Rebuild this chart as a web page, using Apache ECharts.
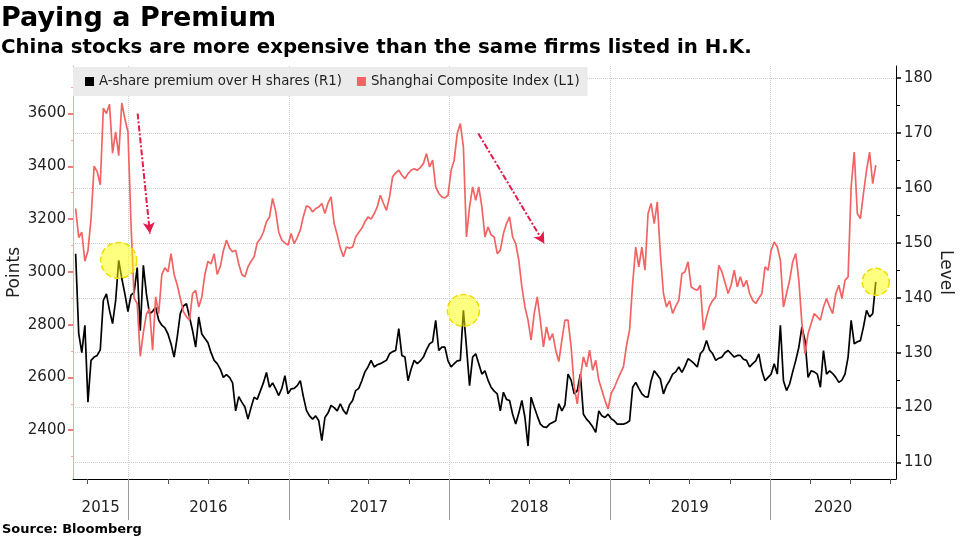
<!DOCTYPE html>
<html><head><meta charset="utf-8">
<script src="https://cdn.jsdelivr.net/npm/echarts@6/dist/echarts.min.js"></script>
<style>html,body{margin:0;padding:0;background:#fff}#c{width:960px;height:540px}</style>
</head><body><div id="c"></div>
<script>
// weekly observations starting from this date
const startDate = '2015-09-04';
// A-share premium over H shares (right axis)
const premium = [
148,133.5,130,135,121,128.6,129.2,129.5,130.5,139.5,
140.7,137.7,135.3,139.5,146.8,143.5,140.7,137.5,140.5,141,
145.5,134,145.9,140.7,137.1,137.5,138.3,135.9,135,134.5,
133.4,131.6,129.2,132.8,137.1,138.5,138.9,136.5,134,131,
136.5,133.4,132.6,131.8,130,128.6,128,127,125.5,126,
125.5,124.5,119.4,122,121,120.1,117.9,120,121.9,121.5,
123,124.5,126.4,123.7,124.5,123.4,122.2,123.5,125.8,122.5,
123.4,123.5,124,124.9,122,119.5,118.5,117.9,118.5,117.6,
114,118.2,119,120.4,120,119.4,120.7,119.5,118.8,120.5,
121.3,123.1,123.5,124.9,126.5,127.4,128.6,127.4,127.8,128,
128.3,128.6,129.8,130.2,130.4,134.4,129.5,129.2,124.9,127,
128.6,128,128.5,129.2,130.5,131.6,132,135.9,130.4,131,
131,128.5,127.4,128,128.5,128.6,137.7,131,124,129.2,
129.8,128,126.1,126.7,125,123.7,123,122.5,119.4,122.8,
121.5,121.3,118.8,117,119,121.3,118.2,113,121.9,120.1,
118.5,117,116.5,116.4,117,117.3,117.6,120.7,119.4,120.5,
126.1,125,122.5,123.1,126.1,118.8,117.9,117.3,116.5,115.5,
119.4,118.5,118.2,118.8,118,117.6,117,117,117,117.2,
117.6,123.7,124.6,123.5,122.5,122,121.9,124.9,126.7,126,
125.2,122.5,124,124.9,126.1,126.5,127.4,126.4,127.5,128.9,
128.5,128,127.4,129.8,130.5,132.2,130.5,129.8,128.6,129,
129.2,130,130.4,129.8,129.2,129.5,129.5,128.8,128.6,127.4,
128,128.5,129.8,126.7,124.9,125.5,126.1,128,126.1,135,
124.9,123.1,124.3,126.5,128.6,131,134.7,132.2,125.5,126.7,
126.5,126.1,123.7,130.4,126.1,126.7,126.2,125.5,124.6,125,
126.1,129.2,135.9,131.6,132,132.2,134.7,137.7,136.5,137.1,
142.9
];
// Shanghai Composite Index (left axis)
const shanghai = [
3240,3130,3150,3040,3080,3200,3400,3380,3330,3620,
3600,3635,3450,3530,3440,3640,3580,3530,3180,2900,
2880,2680,2770,2840,2860,2703,2905,2842,2990,3015,
3000,3069,2990,2950,2900,2850,2830,2817,2918,2930,
2867,2905,2990,3040,3030,3069,2990,3020,3080,3120,
3090,3076,3082,3030,2990,2981,3019,3040,3057,3110,
3125,3150,3190,3208,3278,3230,3150,3120,3110,3101,
3145,3107,3130,3158,3210,3250,3245,3227,3240,3246,
3259,3221,3260,3284,3183,3140,3090,3057,3094,3090,
3094,3132,3150,3165,3190,3208,3200,3220,3246,3290,
3260,3233,3284,3360,3375,3385,3366,3353,3372,3385,
3391,3385,3395,3410,3448,3398,3423,3322,3297,3284,
3280,3290,3385,3423,3524,3562,3473,3132,3246,3322,
3271,3322,3246,3132,3170,3140,3132,3069,3082,3145,
3183,3208,3132,3107,3044,2943,2867,2817,2741,2842,
2905,2817,2716,2791,2741,2766,2703,2660,2741,2817,
2817,2716,2564,2500,2602,2678,2640,2703,2627,2665,
2589,2551,2513,2480,2539,2560,2589,2615,2640,2720,
2780,2956,3094,3019,3094,3006,3221,3259,3183,3265,
3069,2918,2867,2890,2842,2870,2892,2993,3000,3038,
2943,2935,2930,2949,2779,2829,2870,2892,2905,3025,
3000,2960,2918,2950,3006,2943,2981,2943,2968,2918,
2892,2880,2900,2918,3019,3006,3082,3113,3094,3044,
2867,2918,2968,3038,3069,2968,2804,2690,2766,2804,
2842,2830,2817,2867,2899,2867,2842,2918,2949,2899,
2968,2981,3322,3454,3221,3202,3297,3385,3454,3334,
3404
];
const xMinDate = '2015-08-29', xMaxDate = '2020-10-13';
const yearTicks = ['2016-01-01','2017-01-01','2018-01-01','2019-01-01','2020-01-01'];
const quarterTicks = ['2015-10-01','2016-04-01','2016-07-01','2016-10-01','2017-04-01','2017-07-01','2017-10-01',
  '2018-04-01','2018-07-01','2018-10-01','2019-04-01','2019-07-01','2019-10-01','2020-04-01','2020-07-01','2020-10-01'];
const yearLabelPos = ['2015-10-31','2016-07-02','2017-07-02','2018-07-02','2019-07-02','2020-05-23'];
const leftTicks = [2400,2600,2800,3000,3200,3400,3600];
const leftMinor = [2300,2500,2700,2900,3100,3300,3500,3700];
const rightTicks = [110,120,130,140,150,160,170,180];
const rightMinor = [115,125,135,145,155,165,175];
const highlightIdx = [14,126,260];
const highlightSize = [36,32,27];
const arrows = [[['2016-01-23',3600],['2016-02-20',3145]],[['2018-03-08',3524],['2018-08-05',3107]]];

const ts = (s) => Date.parse(s + 'T00:00:00Z');
const DAY = 86400000;
const dates = premium.map((_, i) => ts(startDate) + 7 * i * DAY);
const FONT = 'DejaVu Sans';
const L_MIN = 2215, L_MAX = 3780, R_MIN = 107, R_MAX = 182.2;
const plain = (v) => String(Math.round(v));

const chart = echarts.init(document.getElementById('c'), null, {renderer:'canvas'});
chart.setOption({
  animation:false,
  backgroundColor:'#fff',
  textStyle:{fontFamily:FONT},
  title:[
    {text:'Paying a Premium', left:1, top:5, padding:0, textStyle:{fontFamily:FONT,fontSize:27,fontWeight:'bold',color:'#000'}},
    {text:'China stocks are more expensive than the same firms listed in H.K.', left:1, top:38, padding:0, textStyle:{fontFamily:FONT,fontSize:19.8,fontWeight:'bold',color:'#000'}},
    {text:'Source: Bloomberg', left:2, top:523, padding:0, textStyle:{fontFamily:FONT,fontSize:13,fontWeight:'bold',color:'#000'}}
  ],
  legend:{
    data:['A-share premium over H shares (R1)','Shanghai Composite Index (L1)'],
    left:73, top:67, padding:[8,8,8,12], itemGap:15, itemWidth:9, itemHeight:9, icon:'rect',
    backgroundColor:'#ebebeb', textStyle:{fontFamily:FONT,fontSize:13.3,color:'#222'}
  },
  grid:{left:73, right:64, top:66, bottom:61, containLabel:false, outerBoundsMode:'none'},
  xAxis:[
    {type:'value', min:ts(xMinDate), max:ts(xMaxDate), position:'bottom',
     axisLine:{show:true,onZero:false,lineStyle:{color:'#000',width:1}},
     axisTick:{show:true, customValues:yearTicks.map(ts), length:41, lineStyle:{color:'#9a9a9a',width:1}},
     axisLabel:{show:true, customValues:yearLabelPos.map(ts), margin:22, fontSize:15, color:'#222', fontFamily:FONT,
       formatter:(v)=>String(new Date(v).getUTCFullYear())},
     splitLine:{show:true, lineStyle:{color:'#cfcfcf',type:'dotted',width:1}}},
    {type:'value', min:ts(xMinDate), max:ts(xMaxDate), position:'bottom',
     axisLine:{show:false,onZero:false},
     axisTick:{show:true, customValues:quarterTicks.map(ts), length:5, lineStyle:{color:'#555',width:1}},
     axisLabel:{show:false}, splitLine:{show:false}}
  ],
  yAxis:[
    {type:'value', min:L_MIN, max:L_MAX, position:'left', name:'Points', nameLocation:'middle', nameRotate:90, nameGap:50,
     nameMoveOverlap:false,
     nameTextStyle:{fontFamily:FONT,fontSize:17,color:'#222'},
     axisLine:{show:true,lineStyle:{color:'#f6a8a8',width:1}},
     axisTick:{show:true, customValues:leftTicks, length:5, lineStyle:{color:'#f05050',width:1.5}},
     axisLabel:{show:true, customValues:leftTicks, margin:7, fontSize:15, color:'#222', fontFamily:FONT, formatter:plain},
     splitLine:{show:false}},
    {type:'value', min:R_MIN, max:R_MAX, position:'right', name:'Level', nameLocation:'middle', nameRotate:-90, nameGap:41,
     nameMoveOverlap:false,
     nameTextStyle:{fontFamily:FONT,fontSize:17,color:'#222'},
     axisLine:{show:true,lineStyle:{color:'#000',width:1}},
     axisTick:{show:true, customValues:rightTicks, length:5, lineStyle:{color:'#000',width:1.5}},
     axisLabel:{show:true, customValues:rightTicks, margin:8, fontSize:15, color:'#222', fontFamily:FONT, formatter:plain},
     splitLine:{show:true, lineStyle:{color:'#cfcfcf',type:'dotted',width:1}}},
    {type:'value', min:L_MIN, max:L_MAX, position:'left',
     axisLine:{show:false}, axisTick:{show:true, customValues:leftMinor, length:2, lineStyle:{color:'#f6a8a8',width:1}},
     axisLabel:{show:false}, splitLine:{show:false}},
    {type:'value', min:R_MIN, max:R_MAX, position:'right',
     axisLine:{show:false}, axisTick:{show:true, customValues:rightMinor, length:4, lineStyle:{color:'#000',width:1}},
     axisLabel:{show:false}, splitLine:{show:false}}
  ],
  series:[
    {name:'A-share premium over H shares (R1)', type:'line', xAxisIndex:0, yAxisIndex:1,
     data:dates.map((d,i)=>[d,premium[i]]), showSymbol:false, symbol:'none',
     color:'#000', lineStyle:{color:'#000',width:1.7}, z:2,
     markPoint:{symbol:'circle', silent:true, label:{show:false},
       itemStyle:{color:'rgba(255,255,0,0.5)', borderColor:'#eedd00', borderWidth:1.5, borderType:'dashed'},
       data:highlightIdx.map((k,j)=>({coord:[dates[k],premium[k]], symbolSize:highlightSize[j]}))}},
    {name:'Shanghai Composite Index (L1)', type:'line', xAxisIndex:0, yAxisIndex:0,
     data:dates.map((d,i)=>[d,shanghai[i]]), showSymbol:false, symbol:'none',
     color:'#f26464', lineStyle:{color:'#f26464',width:1.7}, z:3,
     markLine:{silent:true, symbol:['none','arrow'], symbolSize:[9,11], label:{show:false},
       lineStyle:{color:'#e51c4b', width:2, type:[6,2,2,2]},
       data:arrows.map(a=>[{coord:[ts(a[0][0]),a[0][1]]},{coord:[ts(a[1][0]),a[1][1]]}])}}
  ]
});
</script></body></html>
